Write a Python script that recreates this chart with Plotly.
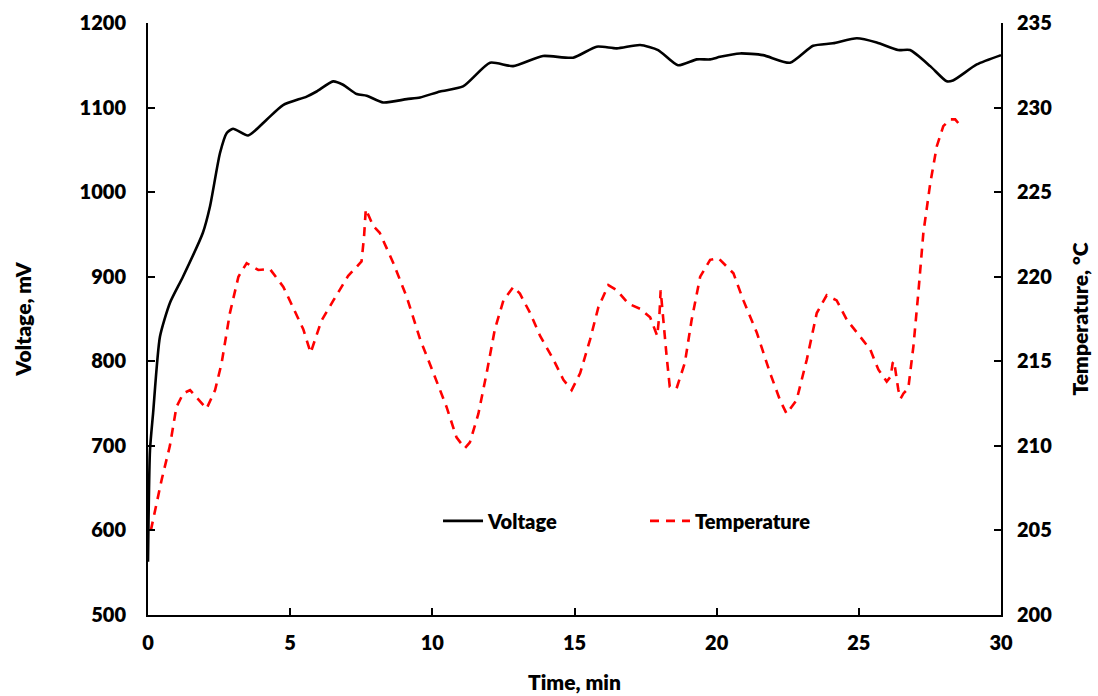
import plotly.graph_objects as go

# Voltage (mV) vs time (min)
volt_t = [0.0, 0.07, 0.18, 0.42, 0.77, 1.23, 1.93, 2.18, 2.53, 2.77, 2.99, 3.52, 4.18, 4.75,
          5.58, 5.93, 6.51, 6.86, 7.34, 7.69, 8.27, 9.1, 9.57, 10.27, 11.08, 12.03, 12.84,
          13.89, 14.95, 15.78, 16.49, 17.31, 17.94, 18.64, 19.30, 19.77, 20.12, 20.82,
          21.63, 22.58, 23.39, 24.09, 24.93, 25.63, 26.38, 26.80, 27.51, 28.09, 28.31,
          29.15, 30.0]
volt_v = [563, 695, 739, 829, 869, 900, 952, 983, 1046, 1070, 1075, 1067, 1086, 1103,
          1113, 1119, 1131, 1127, 1116, 1114, 1106, 1110, 1112, 1119, 1125, 1153, 1149,
          1161, 1159, 1172, 1170, 1174, 1168, 1150, 1157, 1157, 1160, 1164,
          1162, 1153, 1173, 1176, 1182, 1177, 1168, 1168, 1149, 1131, 1132,
          1151, 1162]

# Temperature (°C) vs time (min)
temp_t = [0.1, 0.48, 0.77, 1.0, 1.24, 1.48, 2.06, 2.36, 2.59, 2.88, 3.18, 3.47, 3.88, 4.29,
          4.76, 5.11, 5.46, 5.72, 6.1, 6.52, 7.04, 7.51, 7.6, 7.66, 7.92, 8.15, 8.63, 9.1,
          9.57, 10.04, 10.5, 10.85, 11.14, 11.32, 11.62, 11.91, 12.2, 12.5, 12.85, 13.08,
          13.44, 13.79, 14.26, 14.61, 14.9, 15.2, 15.55, 15.84, 16.19, 16.49, 16.9, 17.31,
          17.66, 17.91, 17.99, 18.03, 18.12, 18.24, 18.35, 18.59, 18.88, 19.12, 19.42,
          19.77, 20.06, 20.59, 20.94, 21.41, 21.88, 22.23, 22.46, 22.81, 23.17, 23.52,
          23.87, 24.22, 24.58, 24.93, 25.4, 25.69, 25.98, 26.12, 26.19, 26.24, 26.31,
          26.39, 26.47, 26.57, 26.74, 26.92, 27.09, 27.27, 27.51, 27.74, 27.97, 28.21,
          28.39, 28.59]
temp_v = [205.0, 208.0, 210.0, 212.3, 213.1, 213.3, 212.2, 213.3, 214.9, 217.85, 220.0, 220.8,
          220.4, 220.45, 219.4, 218.2, 216.9, 215.5, 217.4, 218.6, 220.05, 220.9, 222.4,
          224.0, 223.0, 222.6, 220.8, 218.8, 216.3, 214.3, 212.3, 210.5, 209.86, 210.2,
          211.9, 214.3, 216.9, 218.6, 219.4, 219.0, 217.85, 216.5, 215.1, 213.9, 213.3,
          214.3, 216.3, 218.2, 219.5, 219.2, 218.4, 218.1, 217.6, 216.5, 217.85, 219.2,
          217.45, 215.3, 213.5, 213.4, 214.9, 217.45, 220.0, 221.0, 221.1, 220.2, 218.6,
          216.7, 214.3, 212.7, 211.9, 212.7, 215.1, 217.85, 218.9, 218.6, 217.45, 216.7,
          215.7, 214.5, 213.8, 214.1, 214.9, 215.0, 214.1, 213.3, 212.8, 213.1, 213.4,
          215.9, 219.0, 222.6, 225.5, 227.7, 228.9, 229.3, 229.3, 228.9]

x_ticks = [0, 5, 10, 15, 20, 25, 30]
left_ticks = [500, 600, 700, 800, 900, 1000, 1100, 1200]
right_ticks = [200, 205, 210, 215, 220, 225, 230, 235]

FONT = "Lato"
TICKFONT = dict(family=FONT, size=20, color="black", weight=800)
TITLEFONT = dict(family=FONT, size=21, color="black", weight=800)

fig = go.Figure()
fig.add_trace(go.Scatter(x=volt_t, y=volt_v, name="Voltage", mode="lines",
                         line=dict(color="black", width=2.6, shape="spline", smoothing=0.6)))
fig.add_trace(go.Scatter(x=temp_t, y=temp_v, name="Temperature", mode="lines", yaxis="y2",
                         line=dict(color="#ff0000", width=2.6, dash="9px,7px")))

axis_common = dict(showgrid=False, zeroline=False, showline=True, linecolor="black",
                   linewidth=2, ticks="inside", ticklen=7, tickwidth=1.5, tickcolor="black",
                   tickfont=TICKFONT, automargin=False)

fig.update_layout(
    width=1098, height=696,
    margin=dict(l=148, r=97, t=23, b=81),
    paper_bgcolor="white", plot_bgcolor="white",
    font=dict(family=FONT, size=20, color="black"),
    xaxis=dict(range=[0, 30], tickvals=x_ticks, anchor="y", ticklabelstandoff=9,
               title=dict(text="Time, min", font=TITLEFONT, standoff=22),
               **axis_common),
    yaxis=dict(range=[500, 1200], tickvals=left_ticks, ticklabelstandoff=16,
               title=dict(text="Voltage, mV", font=TITLEFONT, standoff=42),
               **axis_common),
    yaxis2=dict(range=[200, 235], tickvals=right_ticks, overlaying="y", side="right",
                ticklabelstandoff=10,
                title=dict(text="Temperature, °C", font=TITLEFONT, standoff=22),
                **axis_common),
    legend=dict(orientation="h", x=0.340, y=0.159, xanchor="left", yanchor="middle",
                bgcolor="rgba(0,0,0,0)", font=TICKFONT,
                entrywidth=152, itemwidth=40),
    showlegend=True,
)

fig.write_html("out.html")
